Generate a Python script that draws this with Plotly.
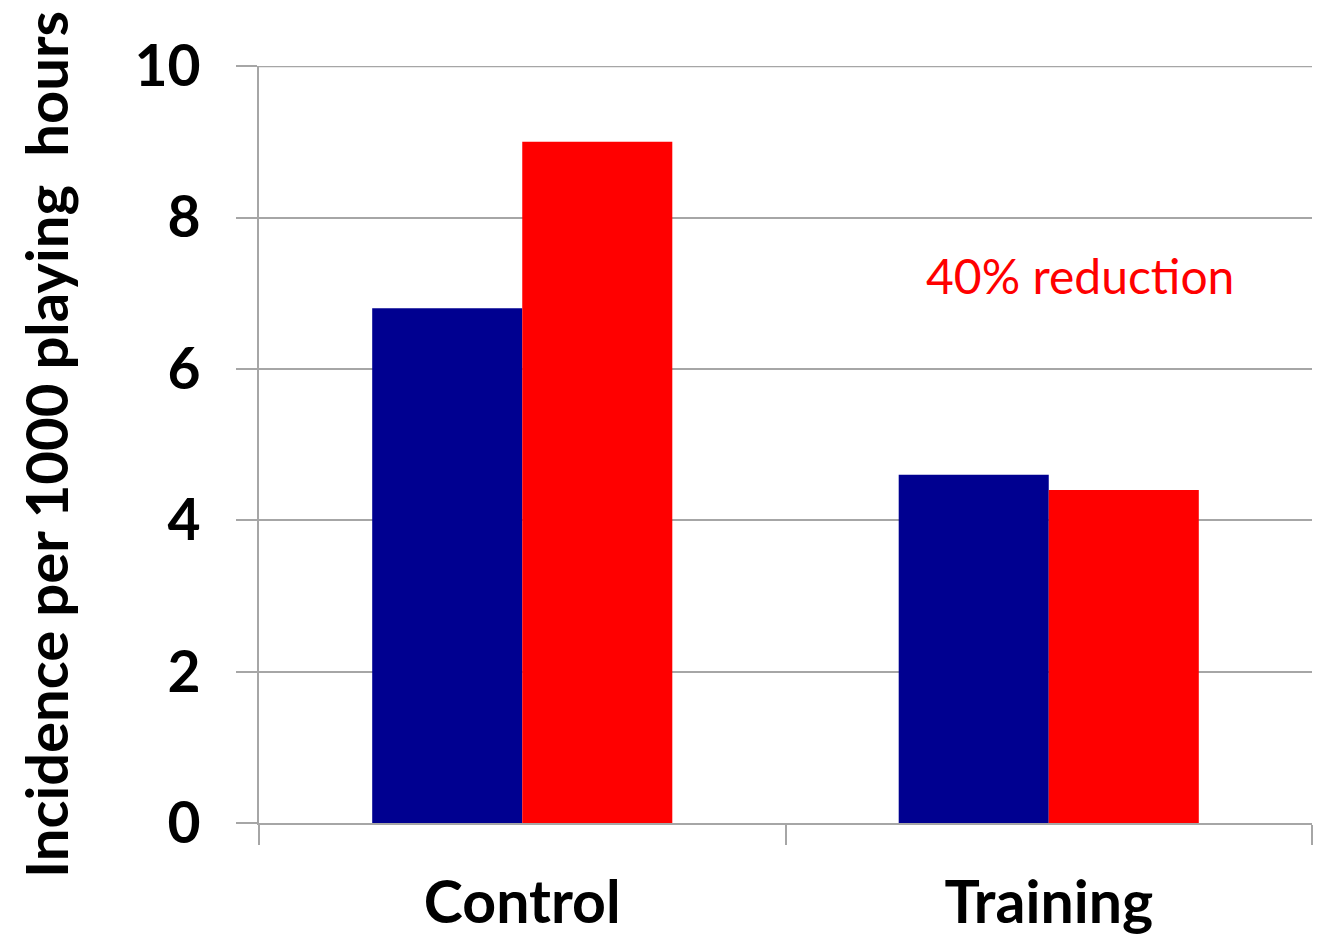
import plotly.graph_objects as go

# Injury incidence per 1000 playing hours, by group
categories = ["Control", "Training"]
period_1 = [6.8, 4.6]
period_2 = [9.0, 4.4]
y_ticks = [0, 2, 4, 6, 8, 10]
note_text = "40% reduction"

grid = "#a6a6a6"

fig = go.Figure()
fig.add_trace(go.Bar(x=categories, y=period_1, name="Period 1",
                     marker=dict(color="#000090", line=dict(width=0))))
fig.add_trace(go.Bar(x=categories, y=period_2, name="Period 2",
                     marker=dict(color="#ff0000", line=dict(width=0))))

# gridline at the top tick value (plotly omits it at the plot edge)
fig.add_shape(type="line", xref="paper", x0=0, x1=1, yref="y",
              y0=y_ticks[-1], y1=y_ticks[-1], line=dict(color=grid, width=2),
              layer="below")

fig.add_annotation(x=0.78, xref="paper", xanchor="center", y=7.23, yref="y",
                   text=note_text, showarrow=False,
                   font=dict(family="Lato", size=48, color="#ff0000"))

fig.update_layout(
    width=1318, height=935,
    margin=dict(l=259, r=6, t=66, b=112),
    paper_bgcolor="white", plot_bgcolor="white",
    barmode="group", bargap=0.43, bargroupgap=0,
    showlegend=False,
    font=dict(family="Lato", color="black"),
    xaxis=dict(
        automargin=False,
        tickson="boundaries", ticks="outside", ticklen=20, tickwidth=2, tickcolor=grid,
        showline=True, linecolor=grid, linewidth=2, showgrid=False,
        tickfont=dict(family="Lato", size=59, color="black", weight="bold"),
        ticklabelstandoff=27,
    ),
    yaxis=dict(
        automargin=False,
        range=[0, 10.002], tickvals=y_ticks, ticks="outside", ticklen=21, tickwidth=2,
        tickcolor=grid,
        showgrid=True, gridcolor=grid, gridwidth=2,
        showline=True, linecolor=grid, linewidth=2, zeroline=False,
        tickfont=dict(family="Lato", size=57, color="black", weight="bold"),
        ticklabelstandoff=24,
        title=dict(text="Incidence per 1000 playing\u00a0 hours",
                   font=dict(family="Lato", size=58, color="black", weight="bold"),
                   standoff=47),
    ),
)

fig.write_html("out.html")
